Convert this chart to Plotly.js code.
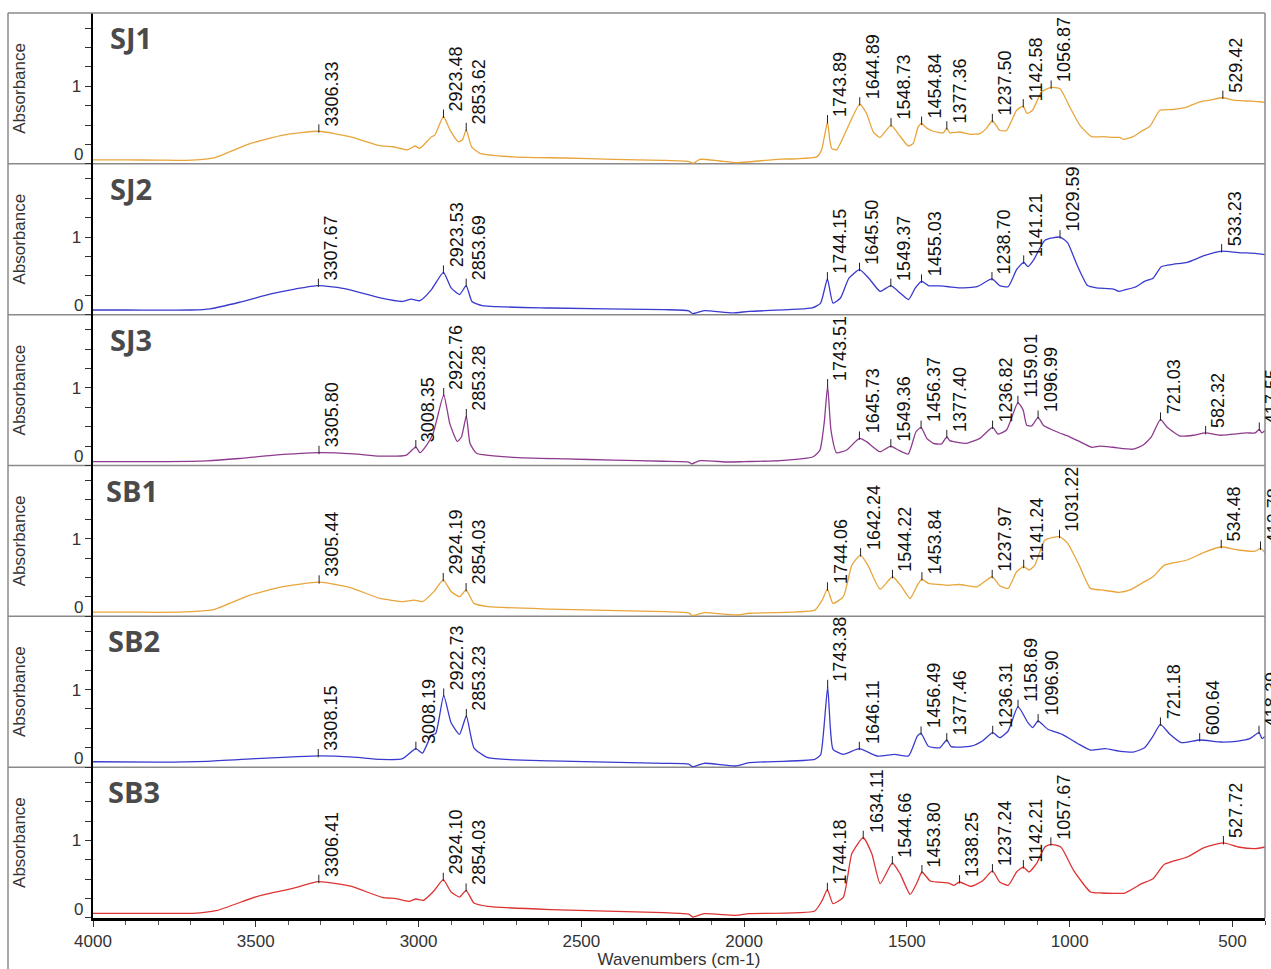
<!DOCTYPE html>
<html>
<head>
<meta charset="utf-8">
<script src="https://cdn.plot.ly/plotly-3.0.1.min.js"></script>
<style>html,body{margin:0;padding:0;background:#fff;}#chart{width:1271px;height:969px;}</style>
</head>
<body>
<div id="chart"></div>
<script>
// ---------------- DATA ----------------
const SJ1_wn  = [4000,3900,3800,3733,3671,3625,3518,3416,3306.33,3211,3119,3079,3033,3011,2996,2960,2950,2923.48,2904,2878,2865,2853.62,2837,2811,2710,2550,2403,2250,2170,2157,2136,2080,2023,1982,1890,1839,1777,1762,1743.89,1737,1731,1716,1685,1644.89,1624,1603,1583,1548.73,1527,1496,1481,1465,1454.84,1439,1419,1388,1377.36,1368,1337,1306,1276,1255,1237.50,1214,1194,1163,1142.58,1131,1114,1086,1056.87,1030,1000,969,933,897,866,846,836,805,774,754,723,682,641,600,569,529.42,497,455,414,400];
const SJ1_abs = [0.05,0.05,0.048,0.045,0.055,0.08,0.26,0.37,0.42,0.35,0.235,0.22,0.18,0.23,0.20,0.35,0.37,0.61,0.44,0.285,0.31,0.44,0.22,0.135,0.09,0.075,0.058,0.045,0.03,0.006,0.058,0.04,0.014,0.027,0.06,0.065,0.09,0.18,0.54,0.31,0.2,0.18,0.44,0.77,0.65,0.41,0.34,0.50,0.39,0.23,0.26,0.48,0.52,0.46,0.42,0.40,0.46,0.40,0.41,0.38,0.39,0.46,0.555,0.43,0.43,0.69,0.745,0.65,0.69,0.93,0.985,0.97,0.735,0.50,0.35,0.35,0.34,0.34,0.315,0.35,0.435,0.48,0.69,0.70,0.73,0.80,0.82,0.855,0.82,0.81,0.80,0.79];
const SJ1_peaks = [3306.33,2923.48,2853.62,1743.89,1644.89,1548.73,1454.84,1377.36,1237.50,1142.58,1056.87,529.42];

const SJ2_wn  = [4000,3900,3800,3700,3640,3550,3450,3380,3307.67,3220,3118,3049,3022,2996,2961,2923.53,2900,2874,2853.69,2836,2804,2595,2245,2170,2158,2123,2036,1984,1791,1765,1744.15,1727,1704,1678,1645.50,1617,1582,1549.37,1521,1495,1474,1455.03,1434,1400,1372,1338,1285,1238.70,1215,1189,1163,1141.21,1128,1110,1076,1029.59,1006,980,945,918,866,849,831,796,770,744,718,680,639,587,533.23,482,430,400];
const SJ2_abs = [0.06,0.06,0.058,0.06,0.075,0.16,0.27,0.33,0.375,0.33,0.215,0.17,0.20,0.18,0.32,0.546,0.345,0.26,0.375,0.17,0.116,0.086,0.065,0.05,0.013,0.052,0.022,0.043,0.086,0.15,0.46,0.15,0.215,0.47,0.58,0.47,0.30,0.375,0.28,0.194,0.345,0.43,0.375,0.37,0.36,0.345,0.36,0.46,0.375,0.36,0.58,0.675,0.62,0.71,0.96,1.00,0.925,0.666,0.375,0.345,0.33,0.30,0.32,0.36,0.43,0.47,0.62,0.65,0.675,0.76,0.82,0.80,0.79,0.775];
const SJ2_peaks = [3307.67,2923.53,2853.69,1744.15,1645.50,1549.37,1455.03,1238.70,1141.21,1029.59,533.23];

const SJ3_wn  = [4000,3800,3650,3550,3450,3305.80,3200,3119,3037,3008.35,2996,2975,2955,2922.76,2904,2881,2868,2853.28,2842,2822,2709,2550,2402,2250,2170,2161,2136,2050,2000,1890,1788,1767,1754,1743.51,1733,1716,1685,1645.73,1624,1583,1549.36,1527,1496,1472,1456.37,1439,1419,1394,1377.40,1368,1317,1276,1236.82,1220,1194,1159.01,1143,1132,1117,1096.99,1081,1040,1000,969,933,907,866,805,774,749,721.03,702,661,620,582.32,538,497,456,430,417.55,410,400];
const SJ3_abs = [0.05,0.05,0.06,0.09,0.13,0.165,0.15,0.122,0.135,0.24,0.165,0.264,0.415,0.91,0.54,0.31,0.37,0.64,0.286,0.157,0.105,0.085,0.07,0.055,0.045,0.02,0.062,0.045,0.05,0.062,0.113,0.20,0.55,1.025,0.45,0.165,0.20,0.35,0.307,0.178,0.25,0.20,0.148,0.435,0.49,0.35,0.286,0.277,0.37,0.32,0.286,0.35,0.49,0.405,0.457,0.81,0.715,0.52,0.51,0.62,0.52,0.435,0.37,0.307,0.235,0.25,0.235,0.21,0.264,0.37,0.595,0.50,0.38,0.39,0.42,0.39,0.405,0.42,0.42,0.466,0.42,0.45];
const SJ3_peaks = [3305.80,3008.35,2922.76,2853.28,1743.51,1645.73,1549.36,1456.37,1377.40,1236.82,1159.01,1096.99,721.03,582.32,417.55];

const SB1_wn  = [4000,3900,3800,3700,3630,3520,3420,3305.44,3210,3118,3049,3014,2988,2953,2924.19,2900,2874,2854.03,2830,2787,2595,2245,2170,2158,2123,2027,1984,1783,1760,1744.06,1727,1695,1669,1642.24,1620,1582,1544.22,1516,1490,1468,1453.84,1434,1400,1372,1338,1285,1237.97,1215,1189,1163,1141.24,1124,1107,1076,1031.22,1006,971,936,901,849,814,770,744,709,639,587,534.48,482,430,413.78,400];
const SB1_abs = [0.055,0.055,0.052,0.06,0.085,0.27,0.38,0.44,0.37,0.23,0.19,0.21,0.19,0.318,0.47,0.32,0.253,0.34,0.167,0.125,0.094,0.06,0.045,0.008,0.047,0.017,0.04,0.08,0.21,0.35,0.167,0.253,0.66,0.79,0.66,0.35,0.51,0.38,0.23,0.40,0.48,0.425,0.41,0.40,0.41,0.38,0.51,0.395,0.36,0.575,0.64,0.597,0.66,0.983,1.026,0.94,0.66,0.36,0.34,0.31,0.34,0.447,0.51,0.66,0.726,0.825,0.897,0.855,0.84,0.876,0.82];
const SB1_peaks = [3305.44,2924.19,2854.03,1744.06,1642.24,1544.22,1453.84,1237.97,1141.24,1031.22,534.48,413.78];

const SB2_wn  = [4000,3800,3650,3500,3400,3308.15,3200,3118,3049,3008.19,2988,2961,2947,2922.73,2900,2874,2853.23,2830,2787,2595,2245,2170,2158,2123,2027,1984,1783,1765,1755,1743.38,1735,1727,1695,1646.11,1591,1538,1495,1468,1456.49,1434,1399,1377.46,1364,1303,1268,1236.31,1215,1189,1158.69,1128,1114,1096.90,1067,1023,971,936,892,849,805,770,744,721.18,692,657,600.64,534,482,447,418.39,409,400];
const SB2_abs = [0.07,0.065,0.075,0.11,0.13,0.145,0.13,0.10,0.11,0.24,0.18,0.41,0.436,0.925,0.573,0.423,0.66,0.25,0.122,0.08,0.05,0.04,0.006,0.05,0.015,0.058,0.10,0.16,0.50,1.037,0.50,0.23,0.165,0.238,0.144,0.165,0.144,0.40,0.436,0.27,0.25,0.35,0.264,0.27,0.337,0.445,0.38,0.466,0.78,0.573,0.51,0.595,0.488,0.423,0.294,0.22,0.238,0.208,0.195,0.25,0.40,0.552,0.423,0.316,0.35,0.324,0.337,0.367,0.445,0.367,0.40];
const SB2_peaks = [3308.15,3008.19,2922.73,2853.23,1743.38,1646.11,1456.49,1377.46,1236.31,1158.69,1096.90,721.18,600.64,418.39];

const SB3_wn  = [4000,3800,3693,3622,3492,3389,3306.41,3209,3112,3070,3030,3008,2985,2953,2924.10,2900,2874,2854.03,2830,2787,2595,2245,2170,2158,2123,2027,1984,1783,1760,1744.18,1727,1695,1669,1634.11,1608,1582,1544.66,1521,1490,1468,1453.80,1428,1372,1355,1338.25,1303,1268,1237.24,1215,1189,1163,1142.21,1125,1102,1076,1057.67,1027,988,936,901,831,779,744,709,639,587,527.72,482,430,400];
const SB3_abs = [0.06,0.06,0.06,0.094,0.283,0.38,0.468,0.41,0.267,0.25,0.215,0.245,0.228,0.348,0.494,0.335,0.27,0.357,0.193,0.15,0.108,0.069,0.05,0.013,0.056,0.034,0.056,0.09,0.228,0.365,0.185,0.27,0.83,1.035,0.83,0.443,0.709,0.571,0.305,0.464,0.593,0.477,0.451,0.421,0.464,0.408,0.477,0.606,0.464,0.421,0.593,0.657,0.593,0.70,0.915,0.95,0.915,0.614,0.335,0.322,0.322,0.443,0.507,0.692,0.786,0.906,0.967,0.915,0.894,0.915];
const SB3_peaks = [3306.41,2924.10,2854.03,1744.18,1634.11,1544.66,1453.80,1338.25,1237.24,1142.21,1057.67,527.72];

const SAMPLE_NAMES = ['SJ1','SJ2','SJ3','SB1','SB2','SB3'];
const X_TICKS = [4000,3500,3000,2500,2000,1500,1000,500];
const Y_TICKS = [0,0.25,0.5,0.75,1,1.25,1.5,1.75];
const Y_TICKTEXT = ['','','','','1','','',''];

// ---------------- STYLE ----------------
const COLORS = ['#E8A53C','#3A3ACF','#8E3B8E','#E8A53C','#3A3ACF','#DD3333'];
const TITLE_X_PX = [108,108,108,104,106,106];
const FONT = 'Liberation Sans, Arial, sans-serif';
const W = 1271, H = 969, ML = 93, MR = 6, MT = 13, MB = 51;
const PW = W - ML - MR, PH = H - MT - MB;
const YMAX = 1.944;

const series = [
  {wn:SJ1_wn, ab:SJ1_abs, pk:SJ1_peaks},
  {wn:SJ2_wn, ab:SJ2_abs, pk:SJ2_peaks},
  {wn:SJ3_wn, ab:SJ3_abs, pk:SJ3_peaks},
  {wn:SB1_wn, ab:SB1_abs, pk:SB1_peaks},
  {wn:SB2_wn, ab:SB2_abs, pk:SB2_peaks},
  {wn:SB3_wn, ab:SB3_abs, pk:SB3_peaks}
];

function valueAt(wn, ab, x){
  for(let i=0;i<wn.length-1;i++){
    const a=wn[i], b=wn[i+1];
    if((x<=a && x>=b)){ const t=(a===b)?0:(a-x)/(a-b); return ab[i]+(ab[i+1]-ab[i])*t; }
  }
  return ab[ab.length-1];
}

const data = [], annotations = [], shapes = [];
const layout = {
  width:W, height:H, margin:{l:ML,r:MR,t:MT,b:MB},
  paper_bgcolor:'#fff', plot_bgcolor:'#fff', showlegend:false, hovermode:false,
  font:{family:FONT, color:'#333'},
  xaxis:{
    range:[4000,400], anchor:'y6', domain:[0,1], showgrid:false, zeroline:false,
    showline:true, linewidth:2.5, linecolor:'#000',
    ticks:'outside', ticklen:6, tickwidth:1, tickcolor:'#333',
    tickmode:'array', tickvals:X_TICKS, ticktext:X_TICKS.map(String),
    tickfont:{family:FONT,size:17,color:'#333'},
    minor:{dtick:100, tick0:0, ticks:'outside', ticklen:4, tickwidth:1, tickcolor:'#555'},
    title:{text:'Wavenumbers (cm-1)', font:{family:FONT,size:17,color:'#333'}, standoff:6}
  },
  annotations, shapes
};

series.forEach((s,i)=>{
  const k = i+1, ya = 'y'+(k>1?k:''), yname = 'yaxis'+(k>1?k:'');
  layout[yname] = {
    domain:[(5-i)/6,(6-i)/6], range:[0,YMAX], anchor:'x', showgrid:false, zeroline:false,
    showline:true, linewidth:2.5, linecolor:'#000',
    ticks:'outside', ticklen:6, tickwidth:1, tickcolor:'#333',
    tickmode:'array', tickvals:Y_TICKS, ticktext:Y_TICKTEXT,
    tickfont:{family:FONT,size:17,color:'#333'},
    title:{text:'Absorbance', font:{family:FONT,size:17,color:'#333'}, standoff:42}
  };
  data.push({type:'scatter', mode:'lines', x:s.wn, y:s.ab, xaxis:'x', yaxis:ya,
    line:{color:COLORS[i], width:1.3, shape:'spline', smoothing:0.5}, name:SAMPLE_NAMES[i]});
  const pkY = s.pk.map(p=>valueAt(s.wn,s.ab,p));
  data.push({type:'scatter', mode:'markers', x:s.pk, y:pkY.map(v=>v+0.035), xaxis:'x', yaxis:ya,
    marker:{symbol:'line-ns-open', size:6, color:'#222', line:{width:1, color:'#222'}}, hoverinfo:'skip'});
  s.pk.forEach((p,j)=>{
    annotations.push({x:p, y:pkY[j], xref:'x', yref:ya, text:p.toFixed(2), showarrow:false,
      textangle:-90, xanchor:'left', yanchor:'bottom', xshift:1, yshift:3,
      font:{family:FONT,size:18,color:'#111'}});
  });
  // "0" label slightly above its tick
  annotations.push({x:0, y:0.115, xref:'paper', yref:ya, text:'0', showarrow:false,
    xanchor:'right', yanchor:'middle', xshift:-8, font:{family:FONT,size:17,color:'#333'}});
  // panel title
  annotations.push({x:(TITLE_X_PX[i]-ML)/PW, y:1, xref:'paper', yref:ya+' domain', text:SAMPLE_NAMES[i],
    showarrow:false, xanchor:'left', yanchor:'top', yshift:-3,
    font:{family:'Open Sans, DejaVu Sans, sans-serif', size:29, color:'#4a4a4a', weight:700}});
});

// frame lines (paper coords)
const px2x = px => (px-ML)/PW;
const py2y = py => 1-(py-MT)/PH;
const gray = {color:'#8a8a8a', width:1.5};
for(let i=1;i<=5;i++){
  const y = i/6;
  shapes.push({type:'line', xref:'paper', yref:'paper', x0:px2x(8), x1:px2x(1265), y0:y, y1:y, line:gray, layer:'below'});
}
shapes.push({type:'line', xref:'paper', yref:'paper', x0:px2x(8), x1:px2x(1265), y0:1, y1:1, line:gray});
shapes.push({type:'line', xref:'paper', yref:'paper', x0:px2x(8), x1:px2x(8), y0:1, y1:py2y(969), line:gray});
shapes.push({type:'line', xref:'paper', yref:'paper', x0:px2x(1265), x1:px2x(1265), y0:1, y1:0, line:gray});

Plotly.newPlot('chart', data, layout, {staticPlot:true, displayModeBar:false});
</script>
</body>
</html>
